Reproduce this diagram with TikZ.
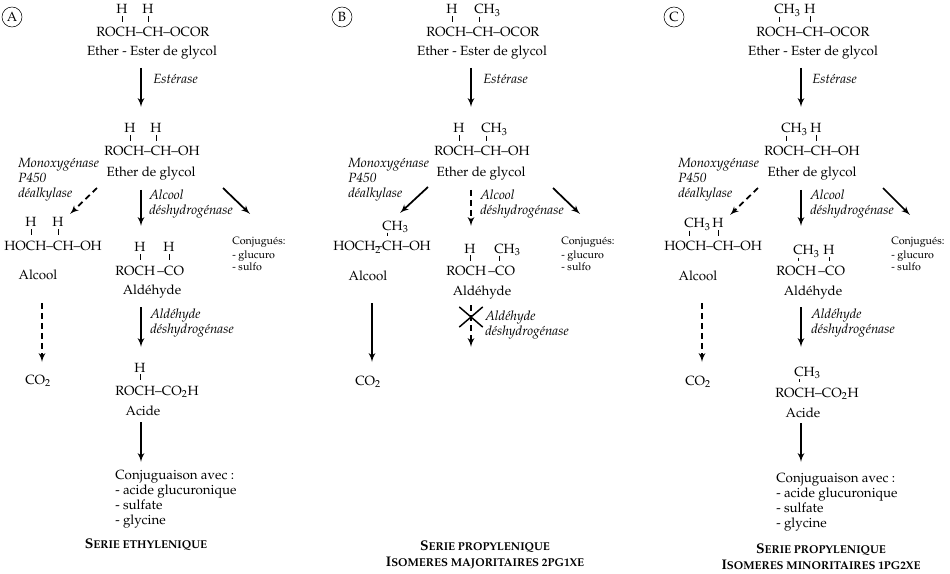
\documentclass[tikz,border=0pt]{standalone}
\usepackage[T1]{fontenc}
\usepackage{mathpazo}
\usepackage{tikz}
\usetikzlibrary{arrows,shapes.misc}

\newcommand{\petitcap}[2]{{\bfseries #1{\fontsize{8.5}{10}\selectfont #2}}}
\newcommand{\methyl}{C\smash{\rlap{H$_3$}}}

\begin{document}
\begin{tikzpicture}[
    x=0.75pt, y=-0.75pt,
    >=latex',
    font=\fontsize{10}{11.25}\selectfont,
    formula/.style={anchor=base west, inner xsep=0pt, inner ysep=4pt},
    subst/.style={anchor=base, inner sep=1.5pt},
    nomc/.style={anchor=base, inner sep=0pt},
    enzyme/.style={
		anchor=base west,
		inner sep=0pt,
		font=\fontsize{10}{11.25}\selectfont\itshape
	},
    liste/.style={anchor=base west, inner sep=0pt},
    petit/.style={
		anchor=base west,
		inner sep=0pt,
		font=\fontsize{8}{9.75}\selectfont
	},
    panel/.style={draw, circle, inner sep=0pt, minimum size=15pt},
    bond/.style={line width=0.6pt},
    flow/.style={->, line width=1.3pt},
    dflow/.style={->, line width=1.3pt, dash pattern=on 4.5pt off 3pt},
    titre/.style={anchor=base, inner sep=0pt, font=\fontsize{10.5}{12.5}\selectfont}
  ]
  \useasboundingbox (0,0) rectangle (950,574);

  % Serie A : ethylenique
  \node[panel] (aTag) at (12,17) {A};

  \node[subst] (aH1) at (122,14) {H};
  \node[subst] (aH2) at (148,14) {H};
  \node[formula] (aEster) at (96,37) {ROCH--CH--OCOR};
  \draw[bond] (aH1.south) -- (aH1.south |- aEster.north);
  \draw[bond] (aH2.south) -- (aH2.south |- aEster.north);
  \node[nomc] (aEsterName) at (152,56) {Ether - Ester de glycol};

  \coordinate (aS1) at (141,68);
  \coordinate (aE1) at (141,107);
  \draw[flow] (aS1) -- (aE1);
  \node[enzyme] (aEst) at (153,84) {Estérase};

  \node[subst] (aH3) at (130,133) {H};
  \node[subst] (aH4) at (156,133) {H};
  \node[formula] (aEther) at (104,156) {ROCH--CH--OH};
  \draw[bond] (aH3.south) -- (aH3.south |- aEther.north);
  \draw[bond] (aH4.south) -- (aH4.south |- aEther.north);
  \node[nomc] (aEtherName) at (151,177) {Ether de glycol};

  \node[enzyme] (aMono) at (18,168)
  {%
  \begin{tabular}[t]{@{}l@{}}
   Monoxygénase\\
   P450\\
   déalkylase
  \end{tabular}
  };

  \coordinate (aS2) at (97,188);
  \coordinate (aE2) at (70,214);
  \draw[dflow] (aS2) -- (aE2);
  \coordinate (aS3) at (141,190);
  \coordinate (aE3) at (141,226);
  \draw[flow] (aS3) -- (aE3);
  \coordinate (aS4) at (223,188);
  \coordinate (aE4) at (250,214);
  \draw[flow] (aS4) -- (aE4);
  \node[enzyme] (aAlc) at (149,200)
  {%
  \begin{tabular}[t]{@{}l@{}}
   Alcool\\
   déshydrogénase
  \end{tabular}
  };

  \node[subst] (aH5) at (31,227) {H};
  \node[subst] (aH6) at (58,227) {H};
  \node[formula] (aDiol) at (4,250) {HOCH--CH--OH};
  \draw[bond] (aH5.south) -- (aH5.south |- aDiol.north);
  \draw[bond] (aH6.south) -- (aH6.south |- aDiol.north);
  \node[nomc] (aDiolName) at (38,279) {Alcool};

  \node[subst] (aH7) at (140,252) {H};
  \node[subst] (aH8) at (169,252) {H};
  \node[formula] (aAld) at (115,275) {ROCH\,--CO};
  \draw[bond] (aH7.south) -- (aH7.south |- aAld.north);
  \draw[bond] (aH8.south) -- (aH8.south |- aAld.north);
  \node[nomc] (aAldName) at (152,294) {Aldéhyde};

  \node[petit] (aConj) at (232,245)
  {%
  \begin{tabular}[t]{@{}l@{}}
   Conjugués:\\
   - glucuro\\
   - sulfo
  \end{tabular}
  };

  \coordinate (aS5) at (42,303);
  \coordinate (aE5) at (42,362);
  \draw[dflow] (aS5) -- (aE5);
  \node[liste] (aCO) at (25,384) {CO$_2$};

  \coordinate (aS6) at (141,307);
  \coordinate (aE6) at (141,347);
  \draw[flow] (aS6) -- (aE6);
  \node[enzyme] (aAldDh) at (150,318)
  {%
  \begin{tabular}[t]{@{}l@{}}
   Aldéhyde\\
   déshydrogénase
  \end{tabular}
  };

  \node[subst] (aH9) at (140,372) {H};
  \node[formula] (aAcid) at (115,395) {ROCH--CO$_2$H};
  \draw[bond] (aH9.south) -- (aH9.south |- aAcid.north);
  \node[nomc] (aAcidName) at (143,415) {Acide};

  \coordinate (aS7) at (141,422);
  \coordinate (aE7) at (141,462);
  \draw[flow] (aS7) -- (aE7);
  \node[liste] (aFin) at (115,479)
  {%
  \begin{tabular}[t]{@{}l@{}}
   Conjuguaison avec :\\
   - acide glucuronique\\
   - sulfate\\
   - glycine
  \end{tabular}
  };

  \node[titre] (aTitre) at (146,548) {\petitcap{S}{ERIE ETHYLENIQUE}};

  % Serie B : propylenique, isomeres majoritaires
  \begin{scope}[shift={(330,0)}]
  \node[panel] (bTag) at (12,17) {B};

  \node[subst] (bH1) at (122,14) {H};
  \node[subst] (bMe1) at (149,14) {\methyl};
  \node[formula] (bEster) at (96,37) {ROCH--CH--OCOR};
  \draw[bond] (bH1.south) -- (bH1.south |- bEster.north);
  \draw[bond] (bMe1.south) -- (bMe1.south |- bEster.north);
  \node[nomc] (bEsterName) at (152,56) {Ether - Ester de glycol};

  \coordinate (bS1) at (141,68);
  \coordinate (bE1) at (141,107);
  \draw[flow] (bS1) -- (bE1);
  \node[enzyme] (bEst) at (153,84) {Estérase};

  \node[subst] (bH2) at (129,133) {H};
  \node[subst] (bMe2) at (156,133) {\methyl};
  \node[formula] (bEther) at (104,156) {ROCH--CH--OH};
  \draw[bond] (bH2.south) -- (bH2.south |- bEther.north);
  \draw[bond] (bMe2.south) -- (bMe2.south |- bEther.north);
  \node[nomc] (bEtherName) at (151,177) {Ether de glycol};

  \node[enzyme] (bMono) at (18,168)
  {%
  \begin{tabular}[t]{@{}l@{}}
   Monoxygénase\\
   P450\\
   déalkylase
  \end{tabular}
  };

  \coordinate (bS2) at (98,187);
  \coordinate (bE2) at (70,213);
  \draw[flow] (bS2) -- (bE2);
  \coordinate (bS3) at (141,190);
  \coordinate (bE3) at (141,226);
  \draw[dflow] (bS3) -- (bE3);
  \coordinate (bS4) at (223,188);
  \coordinate (bE4) at (250,214);
  \draw[flow] (bS4) -- (bE4);
  \node[enzyme] (bAlc) at (150,200)
  {%
  \begin{tabular}[t]{@{}l@{}}
   Alcool\\
   déshydrogénase
  \end{tabular}
  };

  \node[subst] (bMe3) at (57,230) {\methyl};
  \node[formula] (bDiol) at (3,251) {HOCH\rlap{$_2$}--CH--OH};
  \draw[bond] (bMe3.south) -- (bMe3.south |- bDiol.north);
  \node[nomc] (bDiolName) at (38,280) {Alcool};

  \node[subst] (bH4) at (140,253) {H};
  \node[subst] (bMe4) at (169,253) {\methyl};
  \node[formula] (bAld) at (116,276) {ROCH\,--CO};
  \draw[bond] (bH4.south) -- (bH4.south |- bAld.north);
  \draw[bond] (bMe4.south) -- (bMe4.south |- bAld.north);
  \node[nomc] (bAldName) at (152,295) {Aldéhyde};

  \node[petit] (bConj) at (231,245)
  {%
  \begin{tabular}[t]{@{}l@{}}
   Conjugués:\\
   - glucuro\\
   - sulfo
  \end{tabular}
  };

  \coordinate (bS5) at (42,303);
  \coordinate (bE5) at (42,362);
  \draw[flow] (bS5) -- (bE5);
  \node[liste] (bCO) at (25,385) {CO$_2$};

  \coordinate (bS6) at (141,305);
  \coordinate (bE6) at (141,347);
  \draw[dflow] (bS6) -- (bE6);
  \node[draw, cross out, line width=1.1pt, minimum width=16.5pt, minimum height=14pt, inner sep=0pt] (bStop) at (141,317) {};
  \node[enzyme] (bAldDh) at (155,320)
  {%
  \begin{tabular}[t]{@{}l@{}}
   Aldéhyde\\
   déshydrogénase
  \end{tabular}
  };

  \node[titre] (bTitre) at (155,550)
  {%
  \begin{tabular}[t]{@{}c@{}}
   \petitcap{S}{ERIE PROPYLENIQUE}\\
   \petitcap{I}{SOMERES MAJORITAIRES 2PG1XE}
  \end{tabular}
  };
  \end{scope}

  % Serie C : propylenique, isomeres minoritaires
  \begin{scope}[shift={(660,0)}]
  \node[panel] (cTag) at (14,17) {C};

  \node[subst] (cMe1) at (119,14) {\methyl};
  \node[subst] (cH1) at (150,14) {H};
  \node[formula] (cEster) at (96,37) {ROCH--CH--OCOR};
  \draw[bond] (cMe1.south) -- (cMe1.south |- cEster.north);
  \draw[bond] (cH1.south) -- (cH1.south |- cEster.north);
  \node[nomc] (cEsterName) at (153,56) {Ether - Ester de glycol};

  \coordinate (cS1) at (141,68);
  \coordinate (cE1) at (141,107);
  \draw[flow] (cS1) -- (cE1);
  \node[enzyme] (cEst) at (152,84) {Estérase};

  \node[subst] (cMe2) at (126,133) {\methyl};
  \node[subst] (cH2) at (156,133) {H};
  \node[formula] (cEther) at (104,156) {ROCH--CH--OH};
  \draw[bond] (cMe2.south) -- (cMe2.south |- cEther.north);
  \draw[bond] (cH2.south) -- (cH2.south |- cEther.north);
  \node[nomc] (cEtherName) at (152,177) {Ether de glycol};

  \node[enzyme] (cMono) at (18,168)
  {%
  \begin{tabular}[t]{@{}l@{}}
   Monoxygénase\\
   P450\\
   déalkylase
  \end{tabular}
  };

  \coordinate (cS2) at (98,188);
  \coordinate (cE2) at (70,215);
  \draw[dflow] (cS2) -- (cE2);
  \coordinate (cS3) at (141,190);
  \coordinate (cE3) at (141,226);
  \draw[flow] (cS3) -- (cE3);
  \coordinate (cS4) at (223,188);
  \coordinate (cE4) at (250,215);
  \draw[flow] (cS4) -- (cE4);
  \node[enzyme] (cAlc) at (150,200)
  {%
  \begin{tabular}[t]{@{}l@{}}
   Alcool\\
   déshydrogénase
  \end{tabular}
  };

  \node[subst] (cMe3) at (29,228) {\methyl};
  \node[subst] (cH3) at (58,228) {H};
  \node[formula] (cDiol) at (4,251) {HOCH--CH--OH};
  \draw[bond] (cMe3.south) -- (cMe3.south |- cDiol.north);
  \draw[bond] (cH3.south) -- (cH3.south |- cDiol.north);
  \node[nomc] (cDiolName) at (38,280) {Alcool};

  \node[subst] (cMe4) at (138,255) {\methyl};
  \node[subst] (cH4) at (169,255) {H};
  \node[formula] (cAld) at (116,276) {ROCH\,--CO};
  \draw[bond] (cMe4.south) -- (cMe4.south |- cAld.north);
  \draw[bond] (cH4.south) -- (cH4.south |- cAld.north);
  \node[nomc] (cAldName) at (153,295) {Aldéhyde};

  \node[petit] (cConj) at (231,245)
  {%
  \begin{tabular}[t]{@{}l@{}}
   Conjugués:\\
   - glucuro\\
   - sulfo
  \end{tabular}
  };

  \coordinate (cS5) at (42,303);
  \coordinate (cE5) at (42,362);
  \draw[dflow] (cS5) -- (cE5);
  \node[liste] (cCO) at (25,385) {CO$_2$};

  \coordinate (cS6) at (141,307);
  \coordinate (cE6) at (141,347);
  \draw[flow] (cS6) -- (cE6);
  \node[enzyme] (cAldDh) at (151,318)
  {%
  \begin{tabular}[t]{@{}l@{}}
   Aldéhyde\\
   déshydrogénase
  \end{tabular}
  };

  \node[subst] (cMe5) at (139,376) {\methyl};
  \node[formula] (cAcid) at (115,397) {ROCH--CO$_2$H};
  \draw[bond] (cMe5.south) -- (cMe5.south |- cAcid.north);
  \node[nomc] (cAcidName) at (143,417) {Acide};

  \coordinate (cS7) at (141,423);
  \coordinate (cE7) at (141,462);
  \draw[flow] (cS7) -- (cE7);
  \node[liste] (cFin) at (116,482)
  {%
  \begin{tabular}[t]{@{}l@{}}
   Conjuguaison avec :\\
   - acide glucuronique\\
   - sulfate\\
   - glycine
  \end{tabular}
  };

  \node[titre] (cTitre) at (161,553)
  {%
  \begin{tabular}[t]{@{}c@{}}
   \petitcap{S}{ERIE PROPYLENIQUE}\\
   \petitcap{I}{SOMERES MINORITAIRES 1PG2XE}
  \end{tabular}
  };
  \end{scope}

\end{tikzpicture}
\end{document}
